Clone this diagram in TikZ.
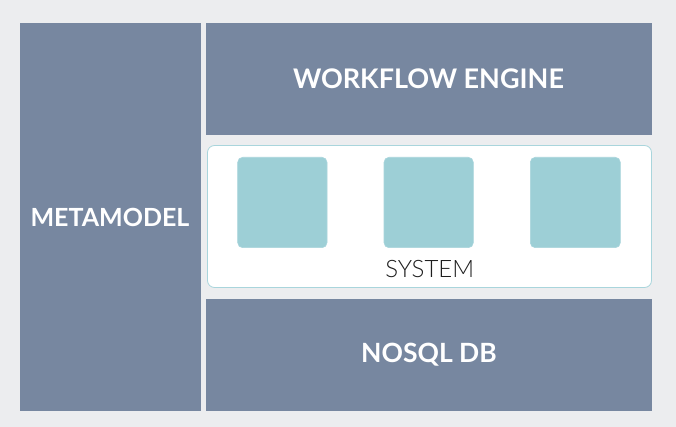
\documentclass[tikz,border=0pt]{standalone}
\usepackage{fontspec}
\setmainfont{Lato}
\newfontfamily\lightfont{Lato Light}
\definecolor{bg}{HTML}{ECEDEF}
\definecolor{slate}{HTML}{7787A0}
\definecolor{teal}{HTML}{9DCFD6}
\definecolor{tealline}{HTML}{A9D5DC}
\definecolor{txt}{HTML}{1E1E1E}
\begin{document}
\begin{tikzpicture}[x=1pt,y=-1pt,
  block/.style={fill=slate,draw=none},
  blocklabel/.style={text=white,inner sep=0pt},
  comp/.style={fill=teal,draw=tealline,line width=0.6pt,rounded corners=5pt}]
\fill[bg] (0,0) rectangle (676,427);
\useasboundingbox (0,0) rectangle (676,427);
% blocks
\fill[block] (20,23) rectangle (201,411);
\node[blocklabel,font=\bfseries\fontsize{25}{30}\selectfont] (meta) at (110,217) {METAMODEL};
\fill[block] (206,23) rectangle (651.5,135);
\node[blocklabel,font=\bfseries\fontsize{27}{32}\selectfont] (wf) at (428.5,79) {WORKFLOW ENGINE};
\fill[block] (206,298.5) rectangle (651.5,411);
\node[blocklabel,font=\bfseries\fontsize{26.5}{31}\selectfont] (db) at (429,355) {NOSQL DB};
% system box
\draw[fill=white,draw=tealline,line width=0.8pt,rounded corners=7pt] (207.5,145.5) rectangle (651.5,287.5);
\draw[comp] (237.7,157.3) rectangle (327,247.7);
\draw[comp] (384,157.3) rectangle (473.3,247.7);
\draw[comp] (530.3,157.3) rectangle (620.3,247.7);
\node[text=txt,font=\lightfont\fontsize{24}{28}\selectfont,inner sep=0pt] (sys) at (429.7,268.7) {SYSTEM};
\end{tikzpicture}
\end{document}
